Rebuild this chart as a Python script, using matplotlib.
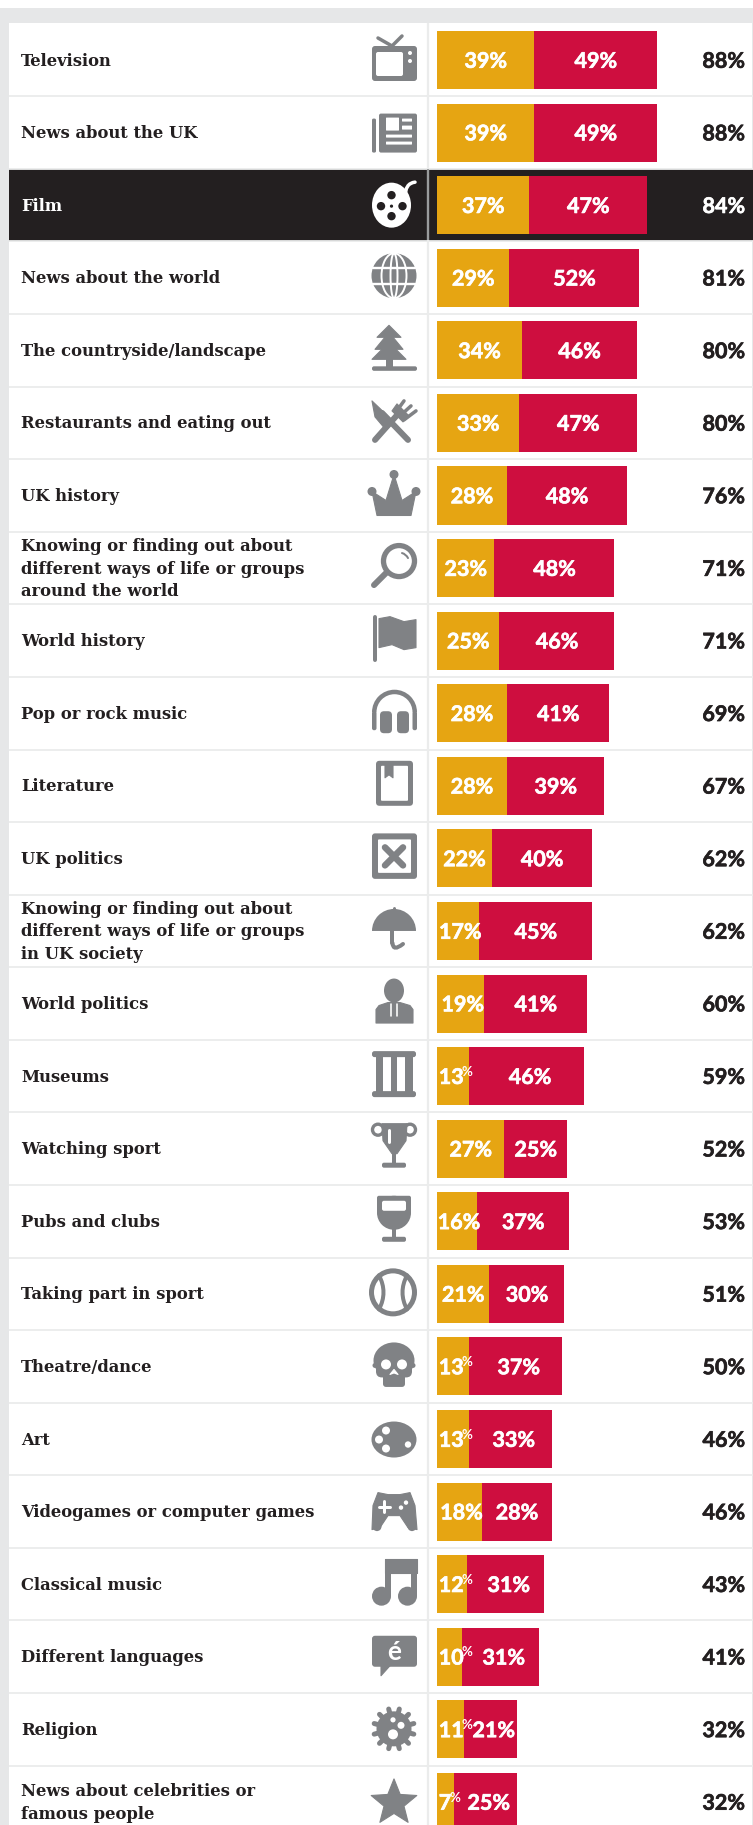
import numpy as np
import matplotlib
matplotlib.use('Agg')
import matplotlib.pyplot as plt
import matplotlib.patheffects as pe
from matplotlib.patches import Circle, Ellipse, FancyBboxPatch, PathPatch, Polygon, Rectangle, Wedge
from matplotlib.path import Path

# =========================
# DATA
# =========================
topics = [
    'Television', 'News about the UK', 'Film', 'News about the world',
    'The countryside/landscape', 'Restaurants and eating out', 'UK history',
    'Knowing or finding out about\ndifferent ways of life or groups\naround the world',
    'World history', 'Pop or rock music', 'Literature', 'UK politics',
    'Knowing or finding out about\ndifferent ways of life or groups\nin UK society',
    'World politics', 'Museums', 'Watching sport', 'Pubs and clubs',
    'Taking part in sport', 'Theatre/dance', 'Art',
    'Videogames or computer games', 'Classical music', 'Different languages',
    'Religion', 'News about celebrities or\nfamous people',
]
amber_values = [39, 39, 37, 29, 34, 33, 28, 23, 25, 28, 28, 22, 17, 19, 13, 27, 16, 21, 13, 13, 18, 12, 10, 11, 7]
red_values = [49, 49, 47, 52, 46, 47, 48, 48, 46, 41, 39, 40, 45, 41, 46, 25, 37, 30, 37, 33, 28, 31, 31, 21, 25]
totals = [88, 88, 84, 81, 80, 80, 76, 71, 71, 69, 67, 62, 62, 60, 59, 52, 53, 51, 50, 46, 46, 43, 41, 32, 32]
icons = [
    'tv', 'paper', 'film', 'globe', 'tree', 'cutlery', 'crown', 'lens', 'flag',
    'phones', 'book', 'ballot', 'umbrella', 'person', 'column', 'trophy', 'wine',
    'ball', 'skull', 'palette', 'pad', 'note', 'bubble', 'gear', 'star',
]
HIGHLIGHT = 'Film'

# =========================
# THEME SETTINGS
# =========================
AMBER = '#e6a512'
RED = '#ce0e3f'
INK = '#231f20'
GREY = '#808285'
PANEL = '#e6e7e8'
RULE = '#ebecec'

W, H = 753, 1825
ROW_H = 72.58
ROW0 = 60
BAR_X0 = 437
PX_PER_PCT = 2.5
TOTAL_X = 123.2
TEXT_NUDGE = 0.018

fig = plt.figure(figsize=(W / 100, H / 100), dpi=100, facecolor='white')

# pixel-space layer for the table background, row names and pictograms
bg = fig.add_axes([0, 0, 1, 1])
bg.set_xlim(0, W)
bg.set_ylim(H, 0)
bg.axis('off')

# data layer for the stacked bars
ax = fig.add_axes([0, 0, 1, 1], zorder=3)
ax.set_xlim(-BAR_X0 / PX_PER_PCT, (W - BAR_X0) / PX_PER_PCT)
ax.set_ylim((H - ROW0) / ROW_H, -ROW0 / ROW_H)
ax.axis('off')

bg.add_patch(Rectangle((0, 8), W, H, color=PANEL, lw=0))
bg.add_patch(Rectangle((9, 23), W - 10, H, color='white', lw=0))


def num(x, y, s, color, ha):
    # Lato Bold with a hairline outline to thicken the figures a little
    ax.text(x, y, s, color=color, ha=ha, va='center', family='Lato', weight='bold', fontsize=15.5, zorder=5,
            path_effects=[pe.withStroke(linewidth=0.45, foreground=color)])


def pill(x0, y0, x1, y1, c, r=1.5, z=5):
    bg.add_patch(FancyBboxPatch((x0 + r, y0 + r), x1 - x0 - 2 * r, y1 - y0 - 2 * r,
                                boxstyle=f'round,pad={r},rounding_size={r}', fc=c, ec='none', zorder=z))


def stroke(pts, c, lw, z=5):
    bg.plot([p[0] for p in pts], [p[1] for p in pts], color=c, lw=lw * 0.72,
            solid_capstyle='round', solid_joinstyle='round', zorder=z)


def dot(x, y, r, c, z=5):
    bg.add_patch(Circle((x, y), r, fc=c, ec='none', zorder=z))


def poly(pts, c, z=5):
    bg.add_patch(Polygon(pts, closed=True, fc=c, ec=c, lw=0.8, joinstyle='round', zorder=z))


def curve(p0, p1, p2, c, lw, z=5):
    path = Path([p0, p1, p2], [Path.MOVETO, Path.CURVE3, Path.CURVE3])
    bg.add_patch(PathPatch(path, fc='none', ec=c, lw=lw * 0.72, capstyle='round', zorder=z))


def draw_icon(name, y, fg, back):
    # y is the row centre; pictograms sit in a 46px box around x=394
    if name == 'tv':
        stroke([(378, y - 22), (392, y - 14), (402, y - 24)], fg, 3.5)
        pill(372, y - 14, 417, y + 21, fg, 3)
        pill(376, y - 8, 403, y + 16, back, 2, 6)
        dot(410, y - 7, 2, back, 6)
        dot(410, y + 1, 2, back, 6)
    elif name == 'paper':
        pill(372, y - 14, 376, y + 20, fg, 1.5)
        pill(379, y - 19, 417, y + 20, fg, 2)
        pill(386, y - 15, 399, y - 2, back, 0.5, 6)
        pill(402, y - 14, 412, y - 11, back, 0.5, 6)
        pill(402, y - 7, 412, y - 3, back, 0.5, 6)
        pill(386, y + 2, 412, y + 5, back, 0.5, 6)
        pill(386, y + 9, 412, y + 12, back, 0.5, 6)
    elif name == 'film':
        bg.add_patch(Ellipse((391.5, y), 39, 45, fc=fg, ec='none', zorder=5))
        curve((405, y - 8), (405, y - 22), (415, y - 23), fg, 3.5)
        for dx, dy, r in [(0, -10, 4.2), (0, 11, 4.2), (-10.5, 1, 4.2), (11, 1, 4.2), (0, 1, 1.6)]:
            dot(391.5 + dx, y + dy, r, back, 6)
    elif name == 'globe':
        cy = y - 2
        dot(394, cy, 22.5, fg)
        for w in (25, 7):
            bg.add_patch(Ellipse((394, cy), w, 45, fc='none', ec=back, lw=1.4, zorder=6))
        for dy in (-8, 8):
            half = np.sqrt(22.5 ** 2 - dy ** 2)
            stroke([(394 - half, cy + dy), (394 + half, cy + dy)], back, 2.4, 6)
    elif name == 'tree':
        pill(372, y + 16, 417, y + 20.5, fg, 2)
        pill(386, y + 6, 393, y + 18, fg, 0.5)
        poly([(389, y - 25), (401, y - 13), (377, y - 13)], fg)
        poly([(389, y - 18), (403, y - 1), (375, y - 1)], fg)
        poly([(389, y - 8), (406, y + 9), (372, y + 9)], fg)
    elif name == 'cutlery':
        stroke([(408, y + 17), (382, y - 10)], fg, 6)
        poly([(372, y - 22), (394, y - 1), (386, y + 7), (375, y - 6)], fg)
        stroke([(375, y + 17), (399, y - 10)], fg, 6)
        poly([(392, y - 12), (397, y - 19), (409, y - 7), (403, y - 1)], fg)
        stroke([(396, y - 11), (404, y - 22)], fg, 3.5)
        stroke([(400, y - 7), (411, y - 17)], fg, 3.5)
        stroke([(404, y - 3), (416, y - 12)], fg, 3.5)
    elif name == 'crown':
        poly([(372, y - 4), (386, y + 5), (394, y - 21), (402, y + 5), (416, y - 4), (411, y + 20), (377, y + 20)], fg)
        dot(394, y - 21, 4.5, fg)
        dot(372, y - 4, 4.5, fg)
        dot(416, y - 4, 4.5, fg)
    elif name == 'lens':
        bg.add_patch(Circle((399, y - 7), 15.5, fc='none', ec=fg, lw=3.8, zorder=5))
        stroke([(386, y + 5), (374, y + 17)], fg, 6)
        curve((402, y - 15), (406, y - 14), (408, y - 10), fg, 2)
    elif name == 'flag':
        stroke([(375, y - 24), (375, y + 19)], fg, 4)
        poly([(379, y - 22), (390, y - 24), (404, y - 19), (416, y - 21), (416, y + 7), (404, y + 9), (392, y + 4), (379, y + 7)], fg)
    elif name == 'phones':
        cy = y - 2
        bg.add_patch(Wedge((394.5, cy + 1), 22.5, 180, 360, width=4.5, fc=fg, ec='none', zorder=5))
        pill(372, cy, 376.5, cy + 19, fg, 2)
        pill(412.5, cy, 417, cy + 19, fg, 2)
        pill(380, cy, 392, cy + 22, fg, 4)
        pill(397, cy, 409, cy + 22, fg, 4)
    elif name == 'book':
        pill(376, y - 25, 413, y + 20, fg, 3.5)
        pill(381, y - 20, 408, y + 15, back, 1, 6)
        poly([(385, y - 21), (393, y - 21), (393, y - 8), (389, y - 11), (385, y - 8)], fg, 7)
    elif name == 'ballot':
        pill(372, y - 25, 417, y + 20.5, fg, 3)
        pill(378, y - 19, 411, y + 14.5, back, 1, 6)
        stroke([(385, y - 11), (403, y + 7)], fg, 6.5, 7)
        stroke([(403, y - 11), (385, y + 7)], fg, 6.5, 7)
    elif name == 'umbrella':
        cy = y
        bg.add_patch(Wedge((394, cy), 22, 180, 360, fc=fg, ec='none', zorder=5))
        stroke([(394, cy - 23), (394, cy - 20)], fg, 3)
        stroke([(392.5, cy), (392.5, cy + 12)], fg, 4)
        curve((392.5, cy + 12), (393, cy + 21), (403, cy + 13), fg, 4)
    elif name == 'person':
        bg.add_patch(Ellipse((394, y - 13), 20, 24, fc=fg, ec='none', zorder=5))
        poly([(376, y + 6), (379, y + 2), (388, y - 1), (400, y - 1), (410, y + 2), (413, y + 6), (413, y + 19.5), (376, y + 19.5)], fg)
        stroke([(391, y), (391, y + 12)], back, 1.6, 6)
        stroke([(397, y), (397, y + 12)], back, 1.6, 6)
    elif name == 'column':
        pill(372, y - 25, 416, y - 19, fg, 2.5)
        pill(372, y + 15, 416, y + 21, fg, 2.5)
        for x0, x1 in [(376, 383), (391, 397), (405, 413)]:
            bg.add_patch(Rectangle((x0, y - 20), x1 - x0, 36, fc=fg, ec='none', zorder=5))
    elif name == 'trophy':
        for hx in (378, 410):
            bg.add_patch(Circle((hx, y - 19), 5.5, fc='none', ec=fg, lw=2.4, zorder=5))
        poly([(382, y - 25), (407, y - 25), (406, y - 8), (397, y + 5), (392, y + 5), (383, y - 8)], fg)
        stroke([(389, y - 19), (389, y - 7)], back, 3, 6)
        bg.add_patch(Rectangle((392.5, y + 3), 4, 13, fc=fg, ec='none', zorder=5))
        pill(382, y + 14, 406, y + 19, fg, 2)
    elif name == 'wine':
        cy = y + 0.5
        pill(377, cy - 26, 411, cy - 8, fg, 2)
        bg.add_patch(Ellipse((394, cy - 9), 34, 34, fc=fg, ec='none', zorder=5))
        pill(382, cy - 21, 406, cy - 11, back, 2, 6)
        bg.add_patch(Rectangle((392.5, cy + 5), 4, 12, fc=fg, ec='none', zorder=5))
        pill(382, cy + 15, 406, cy + 20, fg, 2)
    elif name == 'ball':
        cy = y - 1.5
        bg.add_patch(Circle((393, cy), 21.5, fc='none', ec=fg, lw=3.6, zorder=5))
        curve((379, cy - 17), (388, cy), (379, cy + 17), fg, 4)
        curve((407, cy - 17), (398, cy), (407, cy + 17), fg, 4)
    elif name == 'skull':
        bg.add_patch(Ellipse((394, y - 6), 41, 36, fc=fg, ec='none', zorder=5))
        dot(375, y - 1, 2.5, fg)
        dot(413, y - 1, 2.5, fg)
        pill(383, y + 4, 405, y + 20.5, fg, 3)
        pill(376, y - 6, 412, y + 11, fg, 6)
        dot(386, y - 2, 5, back, 6)
        dot(402, y - 2, 5, back, 6)
        poly([(394, y + 3), (398, y + 8), (394, y + 6.5), (390, y + 8)], back, 6)
    elif name == 'palette':
        bg.add_patch(Ellipse((394, y + 0.5), 45, 36, fc=fg, ec='none', zorder=5))
        for x0, dy, r in [(386, -9, 4), (379, 0, 4), (386, 9, 4), (408, 5, 3.2)]:
            dot(x0, y + dy + 0.5, r, back, 6)
    elif name == 'pad':
        verts = [(372, y + 18), (373, y - 6), (378, y - 19), (388, y - 17), (400, y - 17), (410, y - 19),
                 (415, y - 6), (417, y + 18), (408, y + 16), (400, y + 4), (388, y + 4), (380, y + 16)]
        poly(verts, fg)
        dot(377, y + 15, 4.5, fg)
        dot(412, y + 15, 4.5, fg)
        stroke([(379, y - 5), (390, y - 5)], back, 3, 6)
        stroke([(384.5, y - 10.5), (384.5, y + 0.5)], back, 3, 6)
        dot(406, y - 9, 2.2, back, 6)
        dot(401, y - 4, 2.2, back, 6)
    elif name == 'note':
        cy = y - 1
        poly([(385, cy - 24), (417, cy - 24), (417, cy - 10), (385, cy - 10)], fg)
        bg.add_patch(Rectangle((385, cy - 24), 6, 37, fc=fg, ec='none', zorder=5))
        bg.add_patch(Rectangle((411.5, cy - 24), 5.5, 37, fc=fg, ec='none', zorder=5))
        dot(381.5, cy + 13, 9.5, fg)
        dot(407.5, cy + 13, 9.5, fg)
    elif name == 'bubble':
        pill(372, y - 21, 417, y + 10, fg, 3)
        poly([(381, y + 9), (381, y + 19), (390, y + 9)], fg)
        bg.text(394, y - 5, 'é', color=back, fontsize=19, family='Lato', weight='bold',
                ha='center', va='center', zorder=6)
    elif name == 'gear':
        cy = y - 0.5
        dot(394, cy, 17.5, fg)
        for a in np.arange(0, 360, 30):
            rad = np.deg2rad(a + 15)
            stroke([(394 + 16 * np.cos(rad), cy + 16 * np.sin(rad)), (394 + 20.5 * np.cos(rad), cy + 20.5 * np.sin(rad))], fg, 5)
        dot(393, cy + 5.5, 5, back, 6)
        dot(401, cy - 3.5, 3.5, back, 6)
        dot(393, cy - 9, 2.6, back, 6)
    elif name == 'star':
        ang = np.deg2rad(-90 + 36 * np.arange(10))
        rad = np.where(np.arange(10) % 2 == 0, 24, 10.5)
        poly(list(zip(394 + rad * np.cos(ang), y + 1 + rad * np.sin(ang))), fg)


# row backgrounds, names and pictograms
for i, name in enumerate(topics):
    cy = ROW0 + i * ROW_H
    top = cy - ROW_H / 2
    is_dark = name == HIGHLIGHT
    fg = 'white' if is_dark else GREY
    back = INK if is_dark else 'white'
    if is_dark:
        bg.add_patch(Rectangle((9, top + 0.5), W - 9, ROW_H - 1, fc=INK, ec='none', zorder=1))
    bg.plot([9, W], [top + ROW_H, top + ROW_H], color=RULE, lw=1.3, zorder=2, solid_capstyle='butt')
    bg.text(21, cy + 1, name, color='white' if is_dark else INK, fontsize=11.8, family='DejaVu Serif',
            weight='bold', ha='left', va='center', linespacing=1.42, zorder=4)
    draw_icon(icons[i], cy, fg, back)

bg.plot([428.5, 428.5], [23, H], color=RULE, lw=1.6, zorder=2, solid_capstyle='butt')
bg.plot([428.5, 428.5], [168.5, 240], color='#8a8c8e', lw=1.2, zorder=2, solid_capstyle='butt')

# stacked bars
rows = np.arange(len(topics))
ax.barh(rows, amber_values, height=0.8, color=AMBER, linewidth=0)
ax.barh(rows, red_values, left=amber_values, height=0.8, color=RED, linewidth=0)

for i in rows:
    a, r, t = amber_values[i], red_values[i], totals[i]
    dark = topics[i] == HIGHLIGHT
    ty = i + TEXT_NUDGE
    if a <= 13:
        # short segments squeeze the number and shrink the percent sign
        n = str(a)
        num(0.7, ty, n, 'white', 'left')
        ax.text(0.4 + 4.7 * len(n), i - 0.06, '%', color='white', ha='left', va='center',
                family='Lato', weight='bold', fontsize=9.5, zorder=5)
    else:
        num(a / 2 + (0.8 if a < 20 else 0), ty, f'{a}%', 'white', 'center')
    num(a + r / 2 + (1.2 if a <= 13 else 0), ty, f'{r}%', 'white', 'center')
    num(TOTAL_X, ty, f'{t}%', 'white' if dark else INK, 'right')

plt.savefig('out.png', dpi=100)
